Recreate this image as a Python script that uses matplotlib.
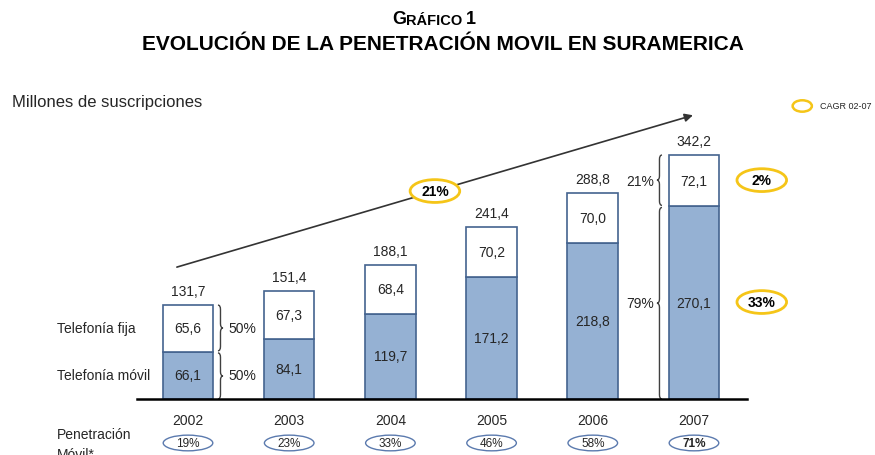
import matplotlib
matplotlib.use("Agg")
import matplotlib.pyplot as plt
from matplotlib.patches import Ellipse, PathPatch
from matplotlib.path import Path
import numpy as np

plt.rcParams['font.family'] = ['Liberation Sans', 'DejaVu Sans']

years = ["2002", "2003", "2004", "2005", "2006", "2007"]
movil = [66.1, 84.1, 119.7, 171.2, 218.8, 270.1]
fija = [65.6, 67.3, 68.4, 70.2, 70.0, 72.1]
totales = ["131,7", "151,4", "188,1", "241,4", "288,8", "342,2"]
penetracion = ["19%", "23%", "33%", "46%", "58%", "71%"]
cagr_total = "21%"
cagr_fija = "2%"
cagr_movil = "33%"
share_2002 = ["50%", "50%"]
share_2007 = ["21%", "79%"]

BLUE = '#95B1D3'
EDGE = '#44638F'
YELLOW = '#F5C518'
TXT = '#262626'


def fmt(v):
    return ("%.1f" % v).replace(".", ",")


def brace(ax, x, y0, y1, d, w, r):
    xm = x + d * w / 2
    ym = (y0 + y1) / 2
    verts = [(x, y0), (xm, y0), (xm, y0 + r),
             (xm, ym - r), (xm, ym), (x + d * w, ym),
             (xm, ym), (xm, ym + r),
             (xm, y1 - r), (xm, y1), (x, y1)]
    codes = [Path.MOVETO, Path.CURVE3, Path.CURVE3,
             Path.LINETO, Path.CURVE3, Path.CURVE3,
             Path.CURVE3, Path.CURVE3,
             Path.LINETO, Path.CURVE3, Path.CURVE3]
    ax.add_patch(PathPatch(Path(verts, codes), fill=False, edgecolor='#404040',
                           linewidth=1, clip_on=False))


fig = plt.figure(figsize=(8.75, 4.56), dpi=100)
ax = fig.add_axes([137 / 875, 56 / 456, 610 / 875, 300 / 456])
ax.set_xlim(-0.504, 5.524)
ax.set_ylim(0, 420.8)
for s in ['top', 'right', 'left']:
    ax.spines[s].set_visible(False)
ax.spines['bottom'].set_linewidth(1.8)
ax.spines['bottom'].set_color('black')
ax.set_xticks([])
ax.set_yticks([])

x = np.arange(len(years))
ax.bar(x, movil, width=0.5, color=BLUE, edgecolor=EDGE, linewidth=1.2, zorder=2)
ax.bar(x, fija, bottom=movil, width=0.5, color='white', edgecolor=EDGE, linewidth=1.2, zorder=2)

for i in range(len(years)):
    ax.text(i, movil[i] / 2, fmt(movil[i]), ha='center', va='center', fontsize=10, color=TXT)
    ax.text(i, movil[i] + fija[i] / 2, fmt(fija[i]), ha='center', va='center', fontsize=10, color=TXT)
    ax.annotate(totales[i], (i, movil[i] + fija[i]), xytext=(0, 5), textcoords='offset points',
                ha='center', va='bottom', fontsize=10, color=TXT)
    ax.text(i, -30, years[i], ha='center', va='center', fontsize=10, color=TXT, clip_on=False)
    ax.add_patch(Ellipse((i, -61.7), 0.49, 22, facecolor='white', edgecolor='#5B7AAE',
                         linewidth=1, clip_on=False))
    ax.text(i, -61.7, penetracion[i], ha='center', va='center', fontsize=8.5, color=TXT,
            fontweight='bold' if i == len(years) - 1 else 'normal', clip_on=False)

# growth arrow
ax.annotate('', xy=(4.99, 398), xytext=(-0.11, 185),
            arrowprops=dict(arrowstyle='-|>', color='#333333', lw=1.2,
                            mutation_scale=12, shrinkA=0, shrinkB=0),
            annotation_clip=False)

# CAGR ellipses
def cagr(xc, yc, label):
    ax.add_patch(Ellipse((xc, yc), 0.49, 32, facecolor='white', edgecolor=YELLOW,
                         linewidth=2, clip_on=False, zorder=3))
    ax.text(xc, yc, label, ha='center', va='center', fontsize=10, fontweight='bold',
            color='black', zorder=4, clip_on=False)

cagr(2.44, 291.7, cagr_total)
cagr(5.67, 307, cagr_fija)
cagr(5.67, 136, cagr_movil)

# legend
ax.add_patch(Ellipse((6.07, 411), 0.19, 16, facecolor='white', edgecolor=YELLOW,
                     linewidth=1.8, clip_on=False))
ax.text(6.25, 411, "CAGR 02-07", ha='left', va='center', fontsize=6.5, color=TXT, clip_on=False)

# braces 2002
brace(ax, 0.296, movil[0] + 1.5, movil[0] + fija[0], 1, 0.05, 6)
brace(ax, 0.296, 0, movil[0] - 1.5, 1, 0.05, 6)
ax.text(0.395, movil[0] + fija[0] / 2, share_2002[0], ha='left', va='center', fontsize=10, color=TXT)
ax.text(0.395, movil[0] / 2, share_2002[1], ha='left', va='center', fontsize=10, color=TXT)

# braces 2007
brace(ax, 4.684, movil[5] + 1.5, movil[5] + fija[5], -1, 0.05, 6)
brace(ax, 4.684, 0, movil[5] - 1.5, -1, 0.05, 6)
ax.text(4.605, movil[5] + fija[5] / 2, share_2007[0], ha='right', va='center', fontsize=10, color=TXT)
ax.text(4.605, movil[5] / 2, share_2007[1], ha='right', va='center', fontsize=10, color=TXT)

# row labels
ax.text(-1.294, movil[0] + fija[0] / 2, "Telefonía fija", ha='left', va='center', fontsize=10, color=TXT, clip_on=False)
ax.text(-1.294, movil[0] / 2, "Telefonía móvil", ha='left', va='center', fontsize=10, color=TXT, clip_on=False)
ax.text(-1.294, -49, "Penetración", ha='left', va='center', fontsize=10, color=TXT, clip_on=False)
ax.text(-1.294, -77, "Móvil*", ha='left', va='center', fontsize=10, color=TXT, clip_on=False)

# titles
fig.text(406 / 875, 1 - 20 / 456, "G", ha='right', va='center', fontsize=13, fontweight='bold')
fig.text(406 / 875, 1 - 21 / 456, "RÁFICO", ha='left', va='center', fontsize=10.5, fontweight='bold')
fig.text(466 / 875, 1 - 20 / 456, "1", ha='left', va='center', fontsize=13, fontweight='bold')
fig.text(443 / 875, 1 - 45 / 456, "EVOLUCIÓN DE LA PENETRACIÓN MOVIL EN SURAMERICA",
         ha='center', va='center', fontsize=15, fontweight='bold')
fig.text(12 / 875, 1 - 103 / 456, "Millones de suscripciones", ha='left', va='center', fontsize=12, color=TXT)

fig.savefig("out.png", dpi=100)
